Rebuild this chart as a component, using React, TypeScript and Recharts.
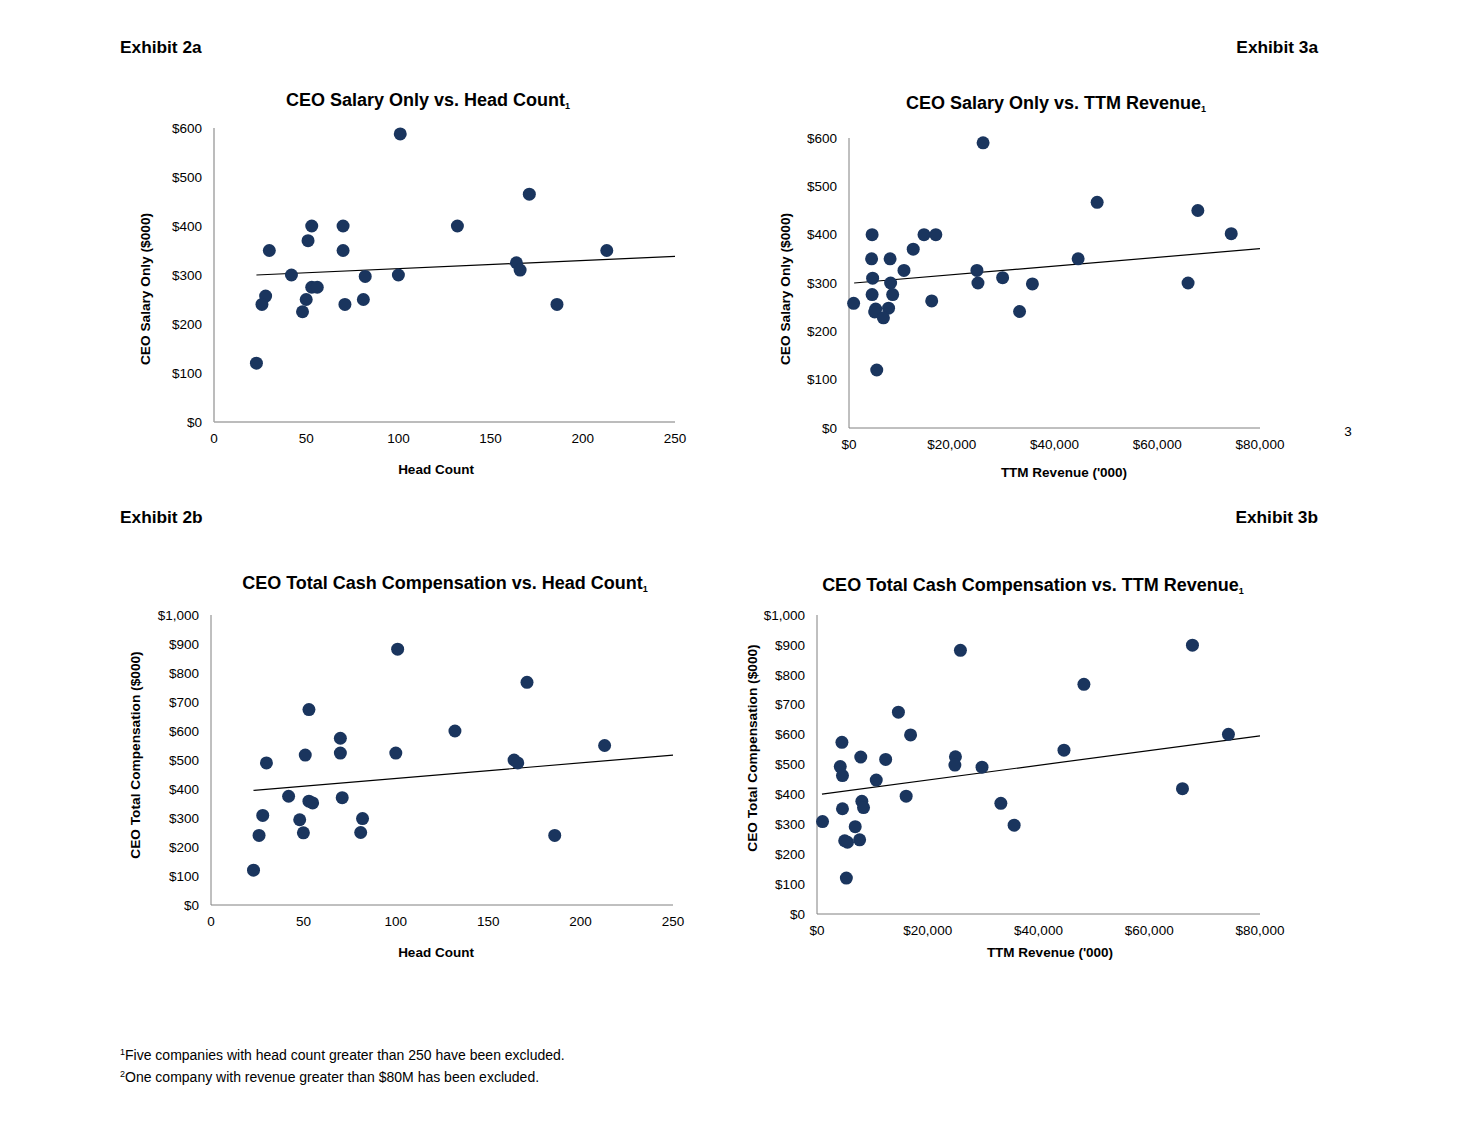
import React from "react";
import { ScatterChart, Scatter, XAxis, YAxis, ReferenceLine } from "recharts";

// Exhibit 2a: salary vs head count
const headCount2a = [101, 171, 53, 70, 132, 51, 30, 70, 213, 164, 166, 42, 82, 100, 53, 56, 28, 26, 50, 48, 71, 81, 186, 23];
const salary2a = [588, 465, 400, 400, 400, 370, 350, 350, 350, 325, 310, 300, 297, 300, 275, 275, 257, 240, 250, 225, 240, 250, 240, 120];
const trend2a = [
  { x: 23, y: 300 },
  { x: 250, y: 338 },
];

// Exhibit 3a: salary vs TTM revenue
const revenue3a = [26100, 48300, 67900, 74400, 4500, 14600, 16900, 12500, 4400, 8000, 44600, 10700, 24900, 4600, 29900, 8100, 25100, 35700, 66000, 4500, 8500, 900, 16100, 5200, 5000, 7700, 6700, 33200, 5400];
const salary3a = [590, 467, 450, 402, 400, 400, 400, 370, 350, 350, 350, 326, 326, 310, 311, 300, 300, 298, 300, 276, 276, 258, 263, 246, 240, 248, 228, 241, 120];
const trend3a = [
  { x: 1000, y: 300 },
  { x: 80000, y: 371 },
];

// Exhibit 2b: total cash comp vs head count
const headCount2b = [101, 171, 53, 132, 70, 213, 51, 70, 100, 30, 164, 166, 42, 53, 55, 71, 28, 48, 82, 26, 50, 81, 186, 23];
const totalComp2b = [882, 768, 674, 600, 575, 550, 517, 524, 524, 490, 500, 490, 375, 358, 352, 370, 309, 294, 298, 240, 249, 250, 240, 120];
const trend2b = [
  { x: 23, y: 395 },
  { x: 250, y: 517 },
];

// Exhibit 3b: total cash comp vs TTM revenue
const revenue3b = [25900, 67800, 48200, 14700, 16900, 74300, 4500, 44600, 7900, 12400, 25000, 24900, 29800, 4200, 4600, 10700, 16100, 66000, 8100, 8400, 4600, 33200, 1000, 6900, 35600, 5000, 5500, 7700, 5300];
const totalComp3b = [882, 899, 768, 675, 599, 601, 574, 548, 525, 517, 526, 498, 491, 493, 463, 448, 394, 419, 377, 356, 352, 370, 309, 292, 297, 245, 240, 248, 120];
const trend3b = [
  { x: 900, y: 401 },
  { x: 80000, y: 596 },
];

const headTicks = [0, 50, 100, 150, 200, 250];
const revenueTicks = [0, 20000, 40000, 60000, 80000];
const salaryTicks = [0, 100, 200, 300, 400, 500, 600];
const compTicks = [0, 100, 200, 300, 400, 500, 600, 700, 800, 900, 1000];

const FONT = "'Liberation Sans', Arial, sans-serif";
const DOT = "#1a355e";

const money = (v: number) => "$" + v.toLocaleString("en-US");
const pair = (xs: number[], ys: number[]) => xs.map((x, i) => ({ x, y: ys[i] }));

const Dot = (p: any) => <circle cx={p.cx} cy={p.cy} r={6.5} fill={DOT} />;

type Plot = { l: number; r: number; t: number; b: number };

function Panel({ plot, data, trend, xTicks, yTicks, xFmt, axisColor, axisWidth }: {
  plot: Plot;
  data: { x: number; y: number }[];
  trend: { x: number; y: number }[];
  xTicks: number[];
  yTicks: number[];
  xFmt?: (v: number) => string;
  axisColor: string;
  axisWidth: number;
}) {
  const padL = 90, padT = 20, padR = 50, padB = 40;
  const w = plot.r - plot.l + padL + padR;
  const h = plot.b - plot.t + padT + padB;
  const tick = { fontSize: 13.5, fill: "#000", fontFamily: FONT };
  return (
    <div style={{ position: "absolute", left: plot.l - padL, top: plot.t - padT }}>
      <ScatterChart width={w} height={h} margin={{ top: padT, right: padR, bottom: padB - 30, left: padL - 60 }}>
        <XAxis
          type="number"
          dataKey="x"
          domain={[xTicks[0], xTicks[xTicks.length - 1]]}
          ticks={xTicks}
          tickFormatter={xFmt}
          tick={tick}
          tickLine={false}
          tickMargin={5}
          height={30}
          axisLine={{ stroke: axisColor, strokeWidth: axisWidth }}
        />
        <YAxis
          type="number"
          dataKey="y"
          domain={[yTicks[0], yTicks[yTicks.length - 1]]}
          ticks={yTicks}
          tickFormatter={money}
          tick={tick}
          tickLine={false}
          tickMargin={6}
          width={60}
          axisLine={{ stroke: axisColor, strokeWidth: axisWidth }}
        />
        <Scatter data={data} fill={DOT} shape={Dot} isAnimationActive={false} />
        <ReferenceLine segment={trend} stroke="#000" strokeWidth={1.2} ifOverflow="visible" />
      </ScatterChart>
    </div>
  );
}

function Label({ x, y, size = 13, bold = false, anchor = "middle", rotate = false, children }: any) {
  const tx = anchor === "start" ? "0" : anchor === "end" ? "-100%" : "-50%";
  return (
    <div
      style={{
        position: "absolute",
        left: x,
        top: y,
        transform: `translate(${tx}, -50%)` + (rotate ? " rotate(-90deg)" : ""),
        whiteSpace: "nowrap",
        fontFamily: FONT,
        fontSize: size,
        fontWeight: bold ? 700 : 400,
        lineHeight: 1.15,
        color: "#000",
      }}
    >
      {children}
    </div>
  );
}

const Sub = () => <span style={{ fontSize: 9, verticalAlign: "-3px" }}>1</span>;
const Sup = ({ n }: { n: string }) => <span style={{ fontSize: 9, verticalAlign: "5px" }}>{n}</span>;

export default function App() {
  return (
    <div style={{ position: "absolute", left: 0, top: 0, width: 1460, height: 1128, background: "#fff", fontFamily: FONT }}>
      <Label x={120} y={48} size={17.3} bold anchor="start">Exhibit 2a</Label>
      <Label x={1318} y={48} size={17.3} bold anchor="end">Exhibit 3a</Label>
      <Label x={120} y={518} size={17.3} bold anchor="start">Exhibit 2b</Label>
      <Label x={1318} y={518} size={17.3} bold anchor="end">Exhibit 3b</Label>

      <Label x={428} y={101} size={18} bold>CEO Salary Only vs. Head Count<Sub /></Label>
      <Label x={1056} y={104} size={18} bold>CEO Salary Only vs. TTM Revenue<Sub /></Label>
      <Label x={445} y={584} size={18} bold>CEO Total Cash Compensation vs. Head Count<Sub /></Label>
      <Label x={1033} y={586} size={18} bold>CEO Total Cash Compensation vs. TTM Revenue<Sub /></Label>

      <Label x={436} y={470} size={13.5} bold>Head Count</Label>
      <Label x={1064} y={473} size={13.5} bold>TTM Revenue ('000)</Label>
      <Label x={436} y={953} size={13.5} bold>Head Count</Label>
      <Label x={1050} y={953} size={13.5} bold>TTM Revenue ('000)</Label>

      <Label x={146} y={289} size={13.7} bold rotate>CEO Salary Only ($000)</Label>
      <Label x={786} y={289} size={13.7} bold rotate>CEO Salary Only ($000)</Label>
      <Label x={136} y={755} size={13.7} bold rotate>CEO Total Compensation ($000)</Label>
      <Label x={753} y={748} size={13.7} bold rotate>CEO Total Compensation ($000)</Label>

      <Label x={1348} y={432} size={13.5}>3</Label>

      <Panel plot={{ l: 214, r: 675, t: 128, b: 422 }} data={pair(headCount2a, salary2a)} trend={trend2a}
        xTicks={headTicks} yTicks={salaryTicks} axisColor="#a6a6a6" axisWidth={1.5} />
      <Panel plot={{ l: 849, r: 1260, t: 138, b: 428 }} data={pair(revenue3a, salary3a)} trend={trend3a}
        xTicks={revenueTicks} yTicks={salaryTicks} xFmt={money} axisColor="#808080" axisWidth={1} />
      <Panel plot={{ l: 211, r: 673, t: 615, b: 905 }} data={pair(headCount2b, totalComp2b)} trend={trend2b}
        xTicks={headTicks} yTicks={compTicks} axisColor="#808080" axisWidth={1} />
      <Panel plot={{ l: 817, r: 1260, t: 615, b: 914 }} data={pair(revenue3b, totalComp3b)} trend={trend3b}
        xTicks={revenueTicks} yTicks={compTicks} xFmt={money} axisColor="#808080" axisWidth={1} />

      <Label x={120} y={1055} size={14} anchor="start"><Sup n="1" />Five companies with head count greater than 250 have been excluded.</Label>
      <Label x={120} y={1077} size={14} anchor="start"><Sup n="2" />One company with revenue greater than $80M has been excluded.</Label>
    </div>
  );
}
